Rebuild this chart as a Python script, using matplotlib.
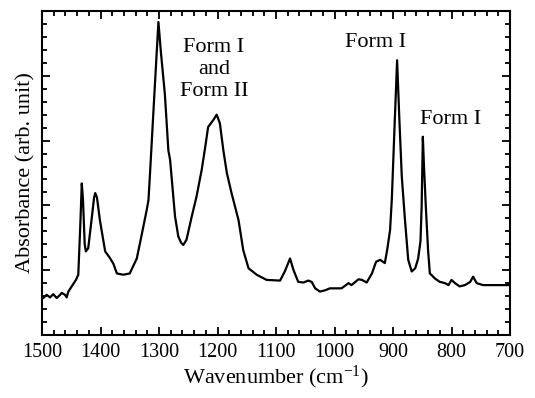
import matplotlib
matplotlib.use("Agg")
import matplotlib.pyplot as plt
from matplotlib.ticker import MultipleLocator

plt.rcParams['font.family'] = ['Liberation Serif', 'DejaVu Serif']
plt.rcParams['mathtext.fontset'] = 'custom'
plt.rcParams['mathtext.rm'] = 'Liberation Serif'
plt.rcParams['mathtext.it'] = 'Liberation Serif:italic'

wavenumber = [1500, 1497.8, 1492, 1486.3, 1480.7, 1474.9, 1469, 1466.3, 1460.7, 1457.8,
              1455, 1449.2, 1442, 1438, 1434.5, 1432, 1430, 1427, 1425, 1421,
              1415, 1411, 1409, 1406, 1401, 1392, 1384, 1378, 1372, 1361, 1350,
              1338, 1332, 1321, 1318, 1315, 1308, 1301, 1296.6, 1290, 1284,
              1281, 1278, 1272.6, 1267, 1262, 1258.5, 1253, 1244, 1236, 1227,
              1221, 1216, 1207, 1201.4, 1196, 1190, 1184, 1176, 1164, 1156,
              1147, 1133, 1116, 1093, 1085, 1076, 1070, 1062, 1053, 1045,
              1039, 1033, 1025, 1016, 1008, 988, 976, 971, 959, 953,
              945, 936, 929, 922, 914, 910, 905, 902, 897, 893,
              889, 885, 880, 874, 868, 862, 857, 853, 851, 849,
              847, 844, 840, 837, 828, 820, 811, 805, 800, 794,
              786, 777, 768, 763, 757, 746, 720, 700]
absorbance = [0.58, 0.57, 0.62, 0.58, 0.63, 0.57, 0.62, 0.65, 0.62, 0.58,
              0.67, 0.75, 0.85, 0.93, 1.7, 2.34, 2.1, 1.4, 1.29, 1.34,
              1.8, 2.12, 2.19, 2.12, 1.77, 1.29, 1.19, 1.10, 0.95, 0.93, 0.95,
              1.18, 1.44, 1.93, 2.08, 2.55, 3.7, 4.83, 4.35, 3.72, 2.85,
              2.70, 2.39, 1.83, 1.52, 1.42, 1.39, 1.47, 1.83, 2.13, 2.55,
              2.90, 3.21, 3.32, 3.40, 3.27, 2.85, 2.50, 2.19, 1.77, 1.31,
              1.03, 0.93, 0.85, 0.84, 0.98, 1.18, 1.00, 0.82, 0.81, 0.84,
              0.82, 0.72, 0.67, 0.69, 0.72, 0.72, 0.80, 0.77, 0.86, 0.85,
              0.81, 0.95, 1.13, 1.16, 1.11, 1.31, 1.62, 2.1, 3.3, 4.24,
              3.3, 2.45, 1.83, 1.16, 0.98, 1.03, 1.18, 1.45, 2.0, 3.06,
              2.6, 2.0, 1.3, 0.95, 0.87, 0.82, 0.80, 0.77, 0.85, 0.80,
              0.75, 0.77, 0.82, 0.90, 0.80, 0.77, 0.77, 0.77]

labels = ["Form I\nand\nForm II", "Form I", "Form I"]
label_x = [1206, 929, 802]
label_y = [4.1, 4.51, 3.33]

fig = plt.figure(figsize=(5.35, 3.98), dpi=100)
ax = fig.add_axes([42/535, 63/398, 468/535, 324/398])
ax.plot(wavenumber, absorbance, color='black', lw=1.6)
ax.set_xlim(1500, 700)
ax.set_ylim(0, 5)
ax.xaxis.set_major_locator(MultipleLocator(100))
ax.xaxis.set_minor_locator(MultipleLocator(20))
ax.yaxis.set_major_locator(MultipleLocator(1))
ax.yaxis.set_minor_locator(MultipleLocator(0.2))
ax.tick_params(which='both', direction='in', top=True, right=True, width=1.3)
ax.tick_params(which='major', length=6)
ax.tick_params(which='minor', length=3.5)
ax.tick_params(axis='x', labelsize=14.5, pad=6)
ax.set_yticklabels([])
for s in ax.spines.values():
    s.set_linewidth(1.5)
ax.set_xlabel(r'Wavenumber (cm$^{-1}$)', fontsize=16, labelpad=1)
ax.set_ylabel('Absorbance (arb. unit)', fontsize=16, labelpad=1)
for t, x, y in zip(labels, label_x, label_y):
    ax.text(x, y, t, ha='center', va='center', fontsize=16, linespacing=1.2)

fig.savefig('out.png', dpi=100)
